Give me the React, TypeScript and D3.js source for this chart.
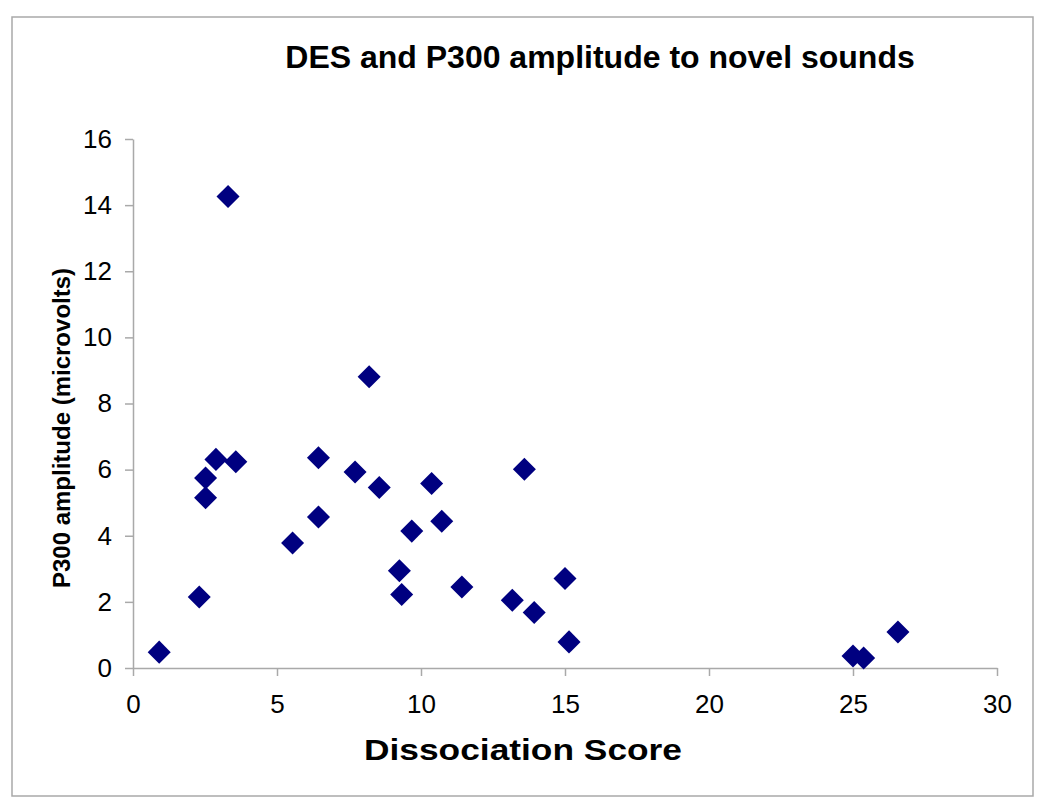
import * as d3 from "d3";
import { useRef, useEffect } from "react";

// DES score vs P300 amplitude, one entry per subject
const desScores = [
  0.91, 2.3, 2.52, 2.52, 2.88, 3.57, 3.3, 8.2, 6.44, 7.71, 8.55, 10.37, 6.44, 10.72,
  9.68, 5.54, 9.25, 9.33, 11.42, 13.59, 15.0, 13.17, 13.93, 15.14, 25.0, 25.37, 26.56,
];
const p300Amplitudes = [
  0.48, 2.15, 5.15, 5.75, 6.31, 6.24, 14.26, 8.81, 6.36, 5.93, 5.46, 5.58, 4.57, 4.44,
  4.14, 3.78, 2.94, 2.22, 2.45, 6.01, 2.71, 2.05, 1.68, 0.79, 0.36, 0.3, 1.09,
];
const xTicks = [0, 5, 10, 15, 20, 25, 30];
const yTicks = [0, 2, 4, 6, 8, 10, 12, 14, 16];

const title = "DES and P300 amplitude to novel sounds";
const xLabel = "Dissociation Score";
const yLabel = "P300 amplitude (microvolts)";

const W = 1050;
const H = 805;
const FONT = "'Liberation Sans', Arial, sans-serif";

const App = () => {
  const ref = useRef<SVGSVGElement>(null);

  useEffect(() => {
    const svg = d3.select(ref.current);
    svg.selectAll("*").remove();

    const left = 133, right = 997, top = 139, bottom = 668;

    const x = d3.scaleLinear().domain([0, 30]).range([left, right]);
    const y = d3.scaleLinear().domain([0, 16]).range([bottom, top]);

    // outer chart frame
    svg.append("rect")
      .attr("x", 12).attr("y", 17)
      .attr("width", 1021).attr("height", 779)
      .attr("fill", "#fff")
      .attr("stroke", "#a9a9a9")
      .attr("stroke-width", 1.5);

    const yAxis = svg.append("g")
      .attr("transform", `translate(${left},0)`)
      .call(d3.axisLeft(y).tickValues(yTicks).tickSize(8).tickSizeOuter(0).tickPadding(13));

    const xAxis = svg.append("g")
      .attr("transform", `translate(0,${bottom})`)
      .call(d3.axisBottom(x).tickValues(xTicks).tickSize(8).tickSizeOuter(0).tickPadding(19));

    [xAxis, yAxis].forEach(g => {
      g.select(".domain").attr("stroke", "#a9a9a9").attr("stroke-width", 1.5);
      g.selectAll(".tick line").attr("stroke", "#a9a9a9").attr("stroke-width", 1.5);
      g.selectAll(".tick text")
        .attr("fill", "#000")
        .style("font-family", FONT)
        .style("font-size", "26px");
    });

    const diamond = d3.symbol().type(d3.symbolSquare).size(265);

    svg.append("g")
      .selectAll("path")
      .data(desScores.map((d, i) => [d, p300Amplitudes[i]]))
      .join("path")
      .attr("d", diamond)
      .attr("transform", d => `translate(${x(d[0])},${y(d[1])}) rotate(45)`)
      .attr("fill", "#000080");

    svg.append("text")
      .attr("x", 600).attr("y", 68)
      .attr("text-anchor", "middle")
      .style("font-family", FONT)
      .style("font-weight", "bold")
      .style("font-size", "32px")
      .text(title);

    svg.append("text")
      .attr("x", 523).attr("y", 760)
      .attr("text-anchor", "middle")
      .attr("textLength", 318)
      .attr("lengthAdjust", "spacingAndGlyphs")
      .style("font-family", FONT)
      .style("font-weight", "bold")
      .style("font-size", "29px")
      .text(xLabel);

    svg.append("text")
      .attr("transform", `translate(70,428) rotate(-90)`)
      .attr("text-anchor", "middle")
      .style("font-family", FONT)
      .style("font-weight", "bold")
      .style("font-size", "24px")
      .text(yLabel);
  }, []);

  return (
    <svg
      ref={ref}
      width={W}
      height={H}
      style={{ position: "absolute", left: 0, top: 0, background: "#fff" }}
    />
  );
};

export default App;
